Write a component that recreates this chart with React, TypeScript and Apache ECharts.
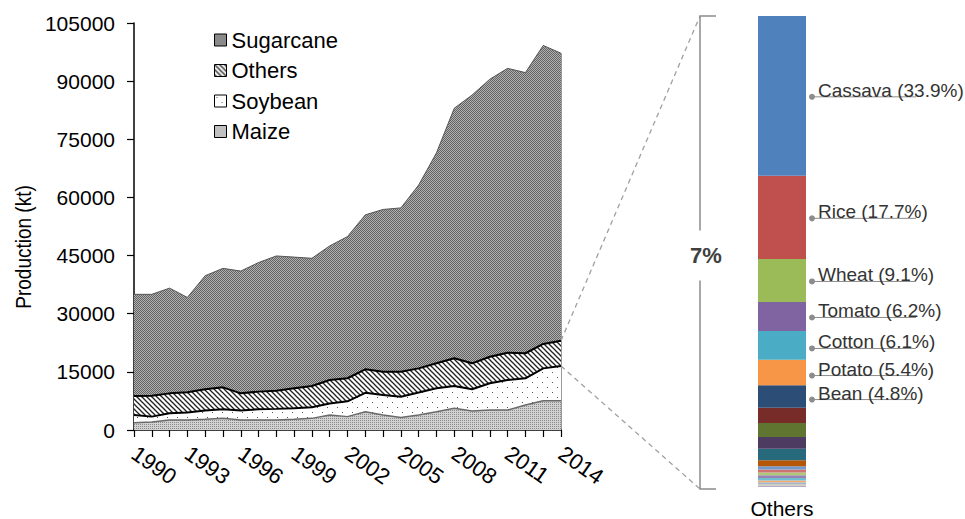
import React, { useEffect, useRef } from 'react';
import * as echarts from 'echarts';

const years = ['1990','1991','1992','1993','1994','1995','1996','1997','1998','1999','2000','2001','2002','2003','2004','2005','2006','2007','2008','2009','2010','2011','2012','2013','2014'];
const maize = [1900, 2050, 2600, 2600, 2750, 3000, 2600, 2600, 2600, 2750, 3000, 3850, 3450, 4700, 3850, 3250, 3850, 4700, 5600, 4900, 5150, 5150, 6450, 7550, 7550];
const soybean = [1950, 1400, 1700, 1900, 2250, 2350, 2400, 2750, 2850, 2850, 2850, 3000, 3950, 4900, 5150, 5350, 5800, 6050, 5750, 5600, 6900, 7750, 6900, 8350, 8950];
const others = [4900, 5400, 5150, 5250, 5500, 5650, 4450, 4550, 4700, 5150, 5500, 6050, 5950, 6050, 6050, 6450, 6250, 6450, 7150, 6700, 6850, 7050, 6450, 6300, 6550];
const sugarcane = [26250, 26150, 27150, 24450, 29300, 30700, 31550, 33300, 34750, 33850, 32950, 34600, 36550, 39850, 41850, 42250, 47300, 54300, 64500, 69200, 71600, 73350, 72400, 77000, 74150];
const yMax = 105000;
const yStep = 15000;

// "Others" breakdown, listed top to bottom
const labeledCrops = ['Cassava', 'Rice', 'Wheat', 'Tomato', 'Cotton', 'Potato', 'Bean'];
const labeledShares = [33.9, 17.7, 9.1, 6.2, 6.1, 5.4, 4.8];
const labeledColors = ['#4F81BD', '#C0504D', '#9BBB59', '#8064A2', '#4BACC6', '#F79646', '#2C4D75'];
const minorShares = [3.2, 3.0, 2.5, 2.4, 1.3, 0.7, 0.6, 0.6, 0.6, 0.5, 0.4, 0.4, 0.3, 0.3];
const minorColors = ['#772C2A', '#5F7530', '#4D3B62', '#276A7C', '#B65708', '#729ACA', '#CD7371', '#AFC97A', '#9983B5', '#6FBDD1', '#F9AB6B', '#A5B6CE', '#C9C9A8', '#B7A9C9'];
const othersShareLabel = '7%';

const FONT = '"Liberation Sans", Arial, sans-serif';

function makeCanvas(w: number, h: number, draw: (ctx: CanvasRenderingContext2D) => void) {
  const c = document.createElement('canvas');
  c.width = w;
  c.height = h;
  const ctx = c.getContext('2d')!;
  draw(ctx);
  return { image: c, repeat: 'repeat', imageWidth: w, imageHeight: h } as any;
}

export default function App() {
  const ref = useRef<HTMLDivElement>(null);
  useEffect(() => {
    document.body.style.margin = '0';
    const chart = echarts.init(ref.current!, null, { renderer: 'svg' });

    const sugarPat = makeCanvas(2, 2, (ctx) => {
      ctx.fillStyle = '#b0b0b0';
      ctx.fillRect(0, 0, 2, 2);
      ctx.fillStyle = '#636363';
      ctx.fillRect(0, 0, 1, 1);
      ctx.fillRect(1, 1, 1, 1);
    });
    const hatchPat = makeCanvas(5, 5, (ctx) => {
      ctx.fillStyle = '#ffffff';
      ctx.fillRect(0, 0, 5, 5);
      ctx.strokeStyle = '#222222';
      ctx.lineWidth = 1.3;
      for (let k = -1; k <= 1; k++) {
        ctx.beginPath();
        ctx.moveTo(-1, k * 5 - 1);
        ctx.lineTo(6, k * 5 + 6);
        ctx.stroke();
      }
    });
    const soyPat = makeCanvas(10, 10, (ctx) => {
      ctx.fillStyle = '#ffffff';
      ctx.fillRect(0, 0, 10, 10);
      ctx.fillStyle = '#555555';
      ctx.fillRect(2, 2, 1, 1);
      ctx.fillRect(7, 7, 1, 1);
    });
    const maizePat = makeCanvas(2, 2, (ctx) => {
      ctx.fillStyle = '#d2d2d2';
      ctx.fillRect(0, 0, 2, 2);
      ctx.fillStyle = '#8a8a8a';
      ctx.fillRect(0, 0, 1, 1);
    });

    const areaSeries = (name: string, data: number[], pat: any, lineColor: string, lineWidth: number) => ({
      name,
      type: 'line',
      stack: 'total',
      data,
      showSymbol: false,
      symbol: 'none',
      lineStyle: { color: lineColor, width: lineWidth },
      itemStyle: { color: pat },
      areaStyle: { color: pat, opacity: 1 },
      silent: true,
    });

    const allShares = [...labeledShares, ...minorShares];
    const allColors = [...labeledColors, ...minorColors];
    const allNames = [...labeledCrops, ...minorShares.map((_, i) => 'Minor crop ' + (i + 1))];
    const shareTotal = allShares.reduce((a, b) => a + b, 0);
    const barSeries = allShares
      .map((s, i) => ({
        name: allNames[i],
        type: 'bar',
        stack: 'others',
        xAxisIndex: 1,
        yAxisIndex: 1,
        barWidth: '100%',
        data: [s],
        itemStyle: { color: allColors[i] },
        silent: true,
      }))
      .reverse();

    const legendItem = (name: string, pat: any) => ({
      name,
      itemStyle: { color: pat, borderColor: '#000', borderWidth: 1 },
    });

    const barLeft = 758;
    const barWidth = 48;

    chart.setOption({
      animation: false,
      legend: {
        orient: 'vertical',
        left: 209,
        top: 24,
        itemWidth: 12,
        itemHeight: 12,
        itemGap: 8.5,
        icon: 'rect',
        textStyle: { fontSize: 22, fontFamily: FONT, color: '#000' },
        data: [
          legendItem('Sugarcane', sugarPat),
          legendItem('Others', hatchPat),
          legendItem('Soybean', soyPat),
          legendItem('Maize', maizePat),
        ],
      },
      grid: [
        { left: 134, right: 965 - 561, top: 23, bottom: 519 - 430 },
        { left: barLeft, width: barWidth, top: 16, bottom: 519 - 488 },
      ],
      xAxis: [
        {
          type: 'category',
          gridIndex: 0,
          data: years,
          boundaryGap: false,
          axisLine: { lineStyle: { color: '#000', width: 1.5 } },
          axisTick: { interval: 0, length: 7, lineStyle: { color: '#000', width: 1.2 } },
          axisLabel: {
            interval: 2,
            rotate: -35,
            margin: 21,
            fontSize: 22,
            fontFamily: FONT,
            color: '#000',
          },
        },
        {
          type: 'category',
          gridIndex: 1,
          data: ['Others'],
          axisLine: { show: false },
          axisTick: { show: false },
          axisLabel: { margin: 11, fontSize: 21, fontFamily: FONT, color: '#000' },
        },
      ],
      yAxis: [
        {
          type: 'value',
          gridIndex: 0,
          min: 0,
          max: yMax,
          interval: yStep,
          splitLine: { show: false },
          axisLine: { show: true, lineStyle: { color: '#000', width: 1.5 } },
          axisTick: { show: true, length: 7, lineStyle: { color: '#000', width: 1.2 } },
          axisLabel: {
            margin: 19,
            fontSize: 21,
            fontFamily: FONT,
            color: '#000',
            formatter: (v: number) => String(v),
          },
        },
        {
          type: 'value',
          gridIndex: 1,
          min: 0,
          max: shareTotal,
          show: false,
        },
      ],
      series: [
        areaSeries('Maize', maize, maizePat, '#6a6a6a', 1.5),
        areaSeries('Soybean', soybean, soyPat, '#000', 2),
        areaSeries('Others', others, hatchPat, '#000', 2),
        areaSeries('Sugarcane', sugarcane, sugarPat, '#555', 1),
        ...barSeries,
      ],
    });

    // annotations computed from the library's scales
    const last = years.length - 1;
    const othersTop = maize[last] + soybean[last] + others[last];
    const othersBottom = maize[last] + soybean[last];
    const grandTop = othersTop + sugarcane[last];
    const pTop = chart.convertToPixel({ gridIndex: 0 }, [last, othersTop]) as number[];
    const pBot = chart.convertToPixel({ gridIndex: 0 }, [last, othersBottom]) as number[];
    const pGrand = chart.convertToPixel({ gridIndex: 0 }, [last, grandTop]) as number[];
    const pZero = chart.convertToPixel({ gridIndex: 0 }, [last, 0]) as number[];
    const barTop = chart.convertToPixel({ yAxisIndex: 1 }, shareTotal) as number;
    const barBottom = chart.convertToPixel({ yAxisIndex: 1 }, 0) as number;
    const bx = 700;
    const bMid = (barTop + barBottom) / 2;
    const gray = '#8c8c8c';

    const graphics: any[] = [
      {
        type: 'text',
        x: 23,
        y: 247,
        rotation: Math.PI / 2,
        scaleY: 1.2,
        style: { text: 'Production (kt)', font: `19px ${FONT}`, fill: '#000', align: 'center', verticalAlign: 'middle' },
      },
      {
        type: 'line',
        shape: { x1: pGrand[0], y1: pGrand[1], x2: pZero[0], y2: pZero[1] },
        style: { stroke: '#333', lineWidth: 1 },
      },
      {
        type: 'line',
        shape: { x1: pTop[0], y1: pTop[1], x2: bx, y2: barTop },
        style: { stroke: '#a0a0a0', lineWidth: 1.3, lineDash: [5, 4] },
      },
      {
        type: 'line',
        shape: { x1: pBot[0], y1: pBot[1], x2: bx, y2: barBottom + 2 },
        style: { stroke: '#a0a0a0', lineWidth: 1.3, lineDash: [5, 4] },
      },
      {
        type: 'polyline',
        shape: { points: [[bx + 16, barTop], [bx, barTop], [bx, bMid - 21]] },
        style: { stroke: gray, lineWidth: 1.5, fill: null },
      },
      {
        type: 'polyline',
        shape: { points: [[bx, bMid + 29], [bx, barBottom + 2], [bx + 16, barBottom + 2]] },
        style: { stroke: gray, lineWidth: 1.5, fill: null },
      },
      {
        type: 'text',
        x: bx + 6,
        y: bMid + 4,
        style: { text: othersShareLabel, font: `bold 22px ${FONT}`, fill: '#404040', align: 'center', verticalAlign: 'middle' },
      },
    ];

    let acc = shareTotal;
    labeledShares.forEach((s, i) => {
      const mid = acc - s / 2;
      acc -= s;
      const y = (chart.convertToPixel({ yAxisIndex: 1 }, mid) as number) + (i >= 4 ? 3 : 1);
      const dx = barLeft + barWidth + 6;
      graphics.push(
        { type: 'line', shape: { x1: dx, y1: y, x2: dx + 104, y2: y }, style: { stroke: gray, lineWidth: 1 } },
        { type: 'circle', shape: { cx: dx, cy: y, r: 3 }, style: { fill: gray } },
        {
          type: 'text',
          x: dx + 6,
          y: y + 3,
          style: {
            text: `${labeledCrops[i]} (${s}%)`,
            font: `19px ${FONT}`,
            fill: '#333',
            align: 'left',
            verticalAlign: 'bottom',
          },
        }
      );
    });

    chart.setOption({ graphic: graphics });

    return () => chart.dispose();
  }, []);

  return <div ref={ref} style={{ width: 965, height: 519 }} />;
}
